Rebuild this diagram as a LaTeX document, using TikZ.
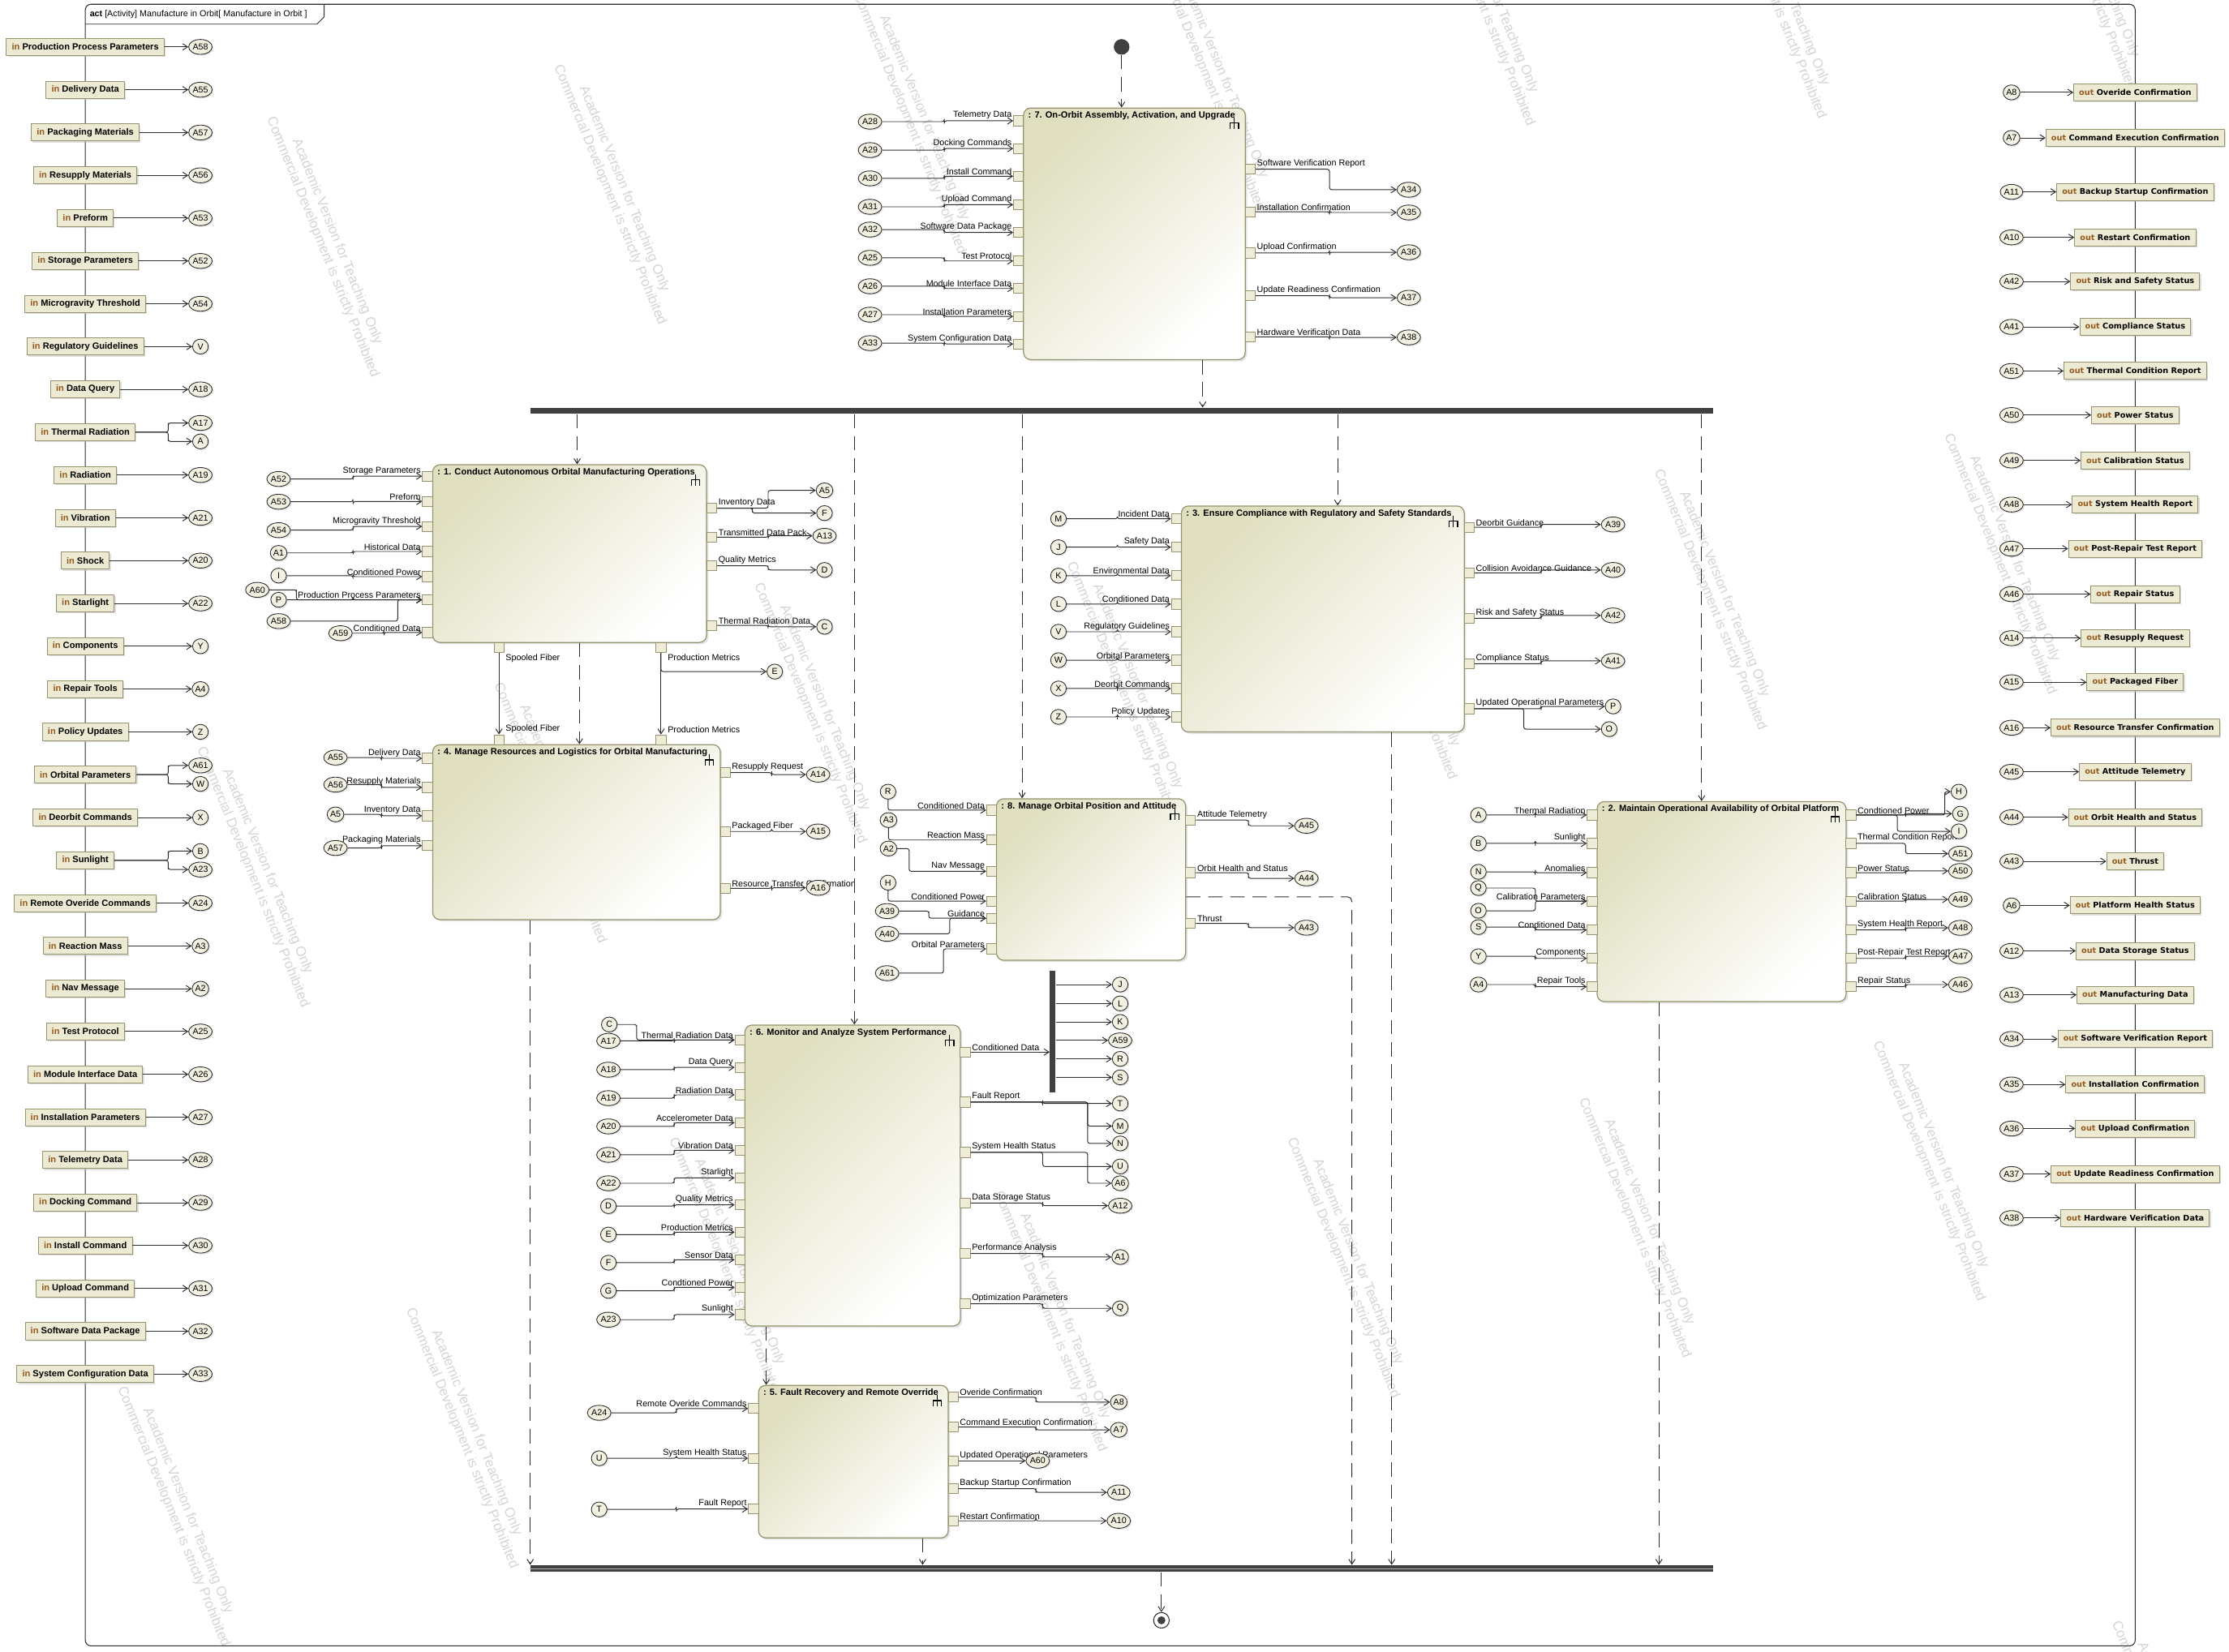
\documentclass[tikz,border=0pt]{standalone}
\usepackage{fontspec}
\setmainfont{Liberation Sans}
\newfontfamily\outfont{DejaVu Sans}
\usetikzlibrary{arrows.meta, calc, shapes.geometric, shadows}
\definecolor{actline}{RGB}{150,148,110}
\definecolor{actfill}{RGB}{224,223,192}
\definecolor{portfill}{RGB}{238,236,214}
\definecolor{pinfill}{RGB}{236,234,210}
\definecolor{reffill}{RGB}{242,240,224}
\definecolor{kw}{RGB}{150,90,30}
\definecolor{barcol}{RGB}{64,64,64}
\definecolor{linecol}{RGB}{45,45,45}
\newcommand{\pxu}{0.35mm}

% action box: name, x1, y1, x2, y2, title
\newcommand{\actbox}[6]{%
  \node[act, minimum width={(#4-#2)*\pxu}, minimum height={(#5-#3)*\pxu}] (#1) at ({(#2+#4)/2},{(#3+#5)/2}) {};
  \node[acttitle] (#1t) at ($(#1.north west)+(3,2)$) {#6};
  \pic at ($(#1.north east)+(-8,11)$) {rake};
}
% input pins of a box: id, pin x, ref x, list y/label/ref/ref y
\newcommand{\boxins}[4]{%
  \foreach \py/\lb/\rf/\ry [count=\cnt] in {#4}{
    \node[port] (p#1i\cnt) at (#2,\py) {};
    \node[lin] (l#1i\cnt) at (p#1i\cnt.west) {\lb};
    \node[ref] (r#1i\cnt) at (#3,\ry) {\rf};
    \draw[flow] (r#1i\cnt) to[jog] (p#1i\cnt);
  }}
% output pins of a box
\newcommand{\boxouts}[4]{%
  \foreach \py/\lb/\rf/\ry [count=\cnt] in {#4}{
    \node[port] (p#1o\cnt) at (#2,\py) {};
    \node[lout] (l#1o\cnt) at (p#1o\cnt.east) {\lb};
    \node[ref] (r#1o\cnt) at (#3,\ry) {\rf};
    \draw[flow] (p#1o\cnt) to[jog] (r#1o\cnt);
  }}

\begin{document}
\begin{tikzpicture}[x=0.35mm, y=-0.35mm, >={Straight Barb[length=3.5pt,width=4.5pt]},
  font=\fontsize{6.1}{7}\selectfont, line join=round,
  act/.style={draw=actline, line width=0.7pt, rounded corners=5pt, top color=actfill, bottom color=white, shading angle=45, inner sep=0pt, drop shadow={shadow xshift=1.3pt, shadow yshift=-1.3pt, fill=black!22}},
  acttitle/.style={anchor=north west, inner sep=0.5pt, font=\fontsize{6.3}{7}\selectfont\bfseries},
  rake/.pic={\draw[line width=0.7pt] (0,-4) -- (0,4) (-3,4) -- (-3,0) -- (3,0) -- (3,4);},
  port/.style={draw=actline, fill=portfill, line width=0.5pt, minimum size=7*\pxu, inner sep=0pt},
  ref/.style={ellipse, draw=linecol, fill=reffill, line width=0.5pt, inner sep=0.4pt, minimum width=11*\pxu, minimum height=10.5*\pxu, drop shadow={shadow xshift=0.9pt, shadow yshift=-0.9pt, fill=black!22}},
  inpin/.style={draw=actline, fill=pinfill, line width=0.5pt, minimum height=12*\pxu, inner xsep=3.8*\pxu, inner ysep=0pt, font=\fontsize{6.3}{7}\selectfont\bfseries, drop shadow={shadow xshift=1pt, shadow yshift=-1pt, fill=black!25}},
  outpin/.style={inpin, font=\outfont\fontsize{5.5}{7}\selectfont\bfseries},
  flow/.style={->, draw=linecol, line width=0.55pt, rounded corners=1.5pt},
  ctrl/.style={->, draw=linecol, line width=0.55pt, dash pattern=on 10pt off 5.5pt},
  jog/.style={to path={-| ($(\tikztostart)!#1!(\tikztotarget)$) |- (\tikztotarget) \tikztonodes}},
  jog/.default=0.5,
  lin/.style={anchor=south east, inner sep=0.8pt},
  lout/.style={anchor=south west, inner sep=0.8pt},
  bar/.style={fill=barcol, inner sep=0pt},
  init/.style={circle, fill=barcol, minimum size=11*\pxu, inner sep=0pt},
  final/.style={circle, draw=linecol, fill=white, line width=0.6pt, minimum size=11*\pxu, inner sep=0pt, path picture={\fill[barcol] (path picture bounding box.center) circle[radius=2.8*\pxu];}},
  wm/.style={text=black!17, rotate=-68, align=center, font=\fontsize{9.6}{11}\selectfont}]
  \useasboundingbox (0,0) rectangle (1568,1162);

  % watermark
  \foreach \wx/\wy [count=\wn] in {232/172, 434/135, 645/85, 855/55, 1045/-5, 1250/-10, 1468/-30, 1208/420, 1412/395, 795/485, 990/455, 575/500, 392/570, 183/615, 744/928, 515/890, 330/1010, 127/1065, 950/890, 1155/862, 1362/822, 1530/1230}
    \node[wm] (wm\wn) at (\wx,\wy) {Academic Version for Teaching Only\\Commercial Development is strictly Prohibited};

  % frame
  \draw[linecol, line width=0.6pt, rounded corners=4pt] (60,3) rectangle (1502,1158);
  \node[anchor=west, inner sep=0pt] (tab) at (63,10) {\textbf{act} [Activity] Manufacture in Orbit[ Manufacture in Orbit ]};
  \draw[linecol, line width=0.5pt] (60,17) -- (223,17) -- (228,12) -- (228,3);

  % input parameters
  \foreach \pn/\nm/\rf in {1/Production Process Parameters/A58, 2/Delivery Data/A55, 3/Packaging Materials/A57, 4/Resupply Materials/A56, 5/Preform/A53, 6/Storage Parameters/A52, 7/Microgravity Threshold/A54, 8/Regulatory Guidelines/V, 9/Data Query/A18, 11/Radiation/A19, 12/Vibration/A21, 13/Shock/A20, 14/Starlight/A22, 15/Components/Y, 16/Repair Tools/A4, 17/Policy Updates/Z, 19/Deorbit Commands/X, 21/Remote Overide Commands/A24, 22/Reaction Mass/A3, 23/Nav Message/A2, 24/Test Protocol/A25, 25/Module Interface Data/A26, 26/Installation Parameters/A27, 27/Telemetry Data/A28, 28/Docking Command/A29, 29/Install Command/A30, 30/Upload Command/A31, 31/Software Data Package/A32, 32/System Configuration Data/A33}{
    \pgfmathsetmacro\yy{33+30.12*(\pn-1)}
    \node[inpin] (in\pn) at (60,\yy) {\textcolor{kw}{in} \nm};
    \node[ref] (inr\pn) at (141,\yy) {\rf};
    \draw[flow] (in\pn) -- (inr\pn);
  }
  \foreach \pn/\nm/\rfa/\rfb in {10/Thermal Radiation/A17/A, 18/Orbital Parameters/A61/W, 20/Sunlight/B/A23}{
    \pgfmathsetmacro\yy{33+30.12*(\pn-1)}
    \node[inpin] (in\pn) at (60,\yy) {\textcolor{kw}{in} \nm};
    \node[ref] (inra\pn) at (141,\yy-6.5) {\rfa};
    \node[ref] (inrb\pn) at (141,\yy+6.5) {\rfb};
    \draw[flow] (in\pn) to[jog=0.72] (inra\pn);
    \draw[flow] (in\pn) to[jog=0.72] (inrb\pn);
  }

  % output parameters
  \foreach \yy/\rf/\nm [count=\pn] in {65/A8/Overide Confirmation, 97/A7/Command Execution Confirmation, 135/A11/Backup Startup Confirmation, 167/A10/Restart Confirmation, 198/A42/Risk and Safety Status, 230/A41/Compliance Status, 261/A51/Thermal Condition Report, 292/A50/Power Status, 324/A49/Calibration Status, 355/A48/System Health Report, 386/A47/Post-Repair Test Report, 418/A46/Repair Status, 449/A14/Resupply Request, 480/A15/Packaged Fiber, 512/A16/Resource Transfer Confirmation, 543/A45/Attitude Telemetry, 575/A44/Orbit Health and Status, 606/A43/Thrust, 637/A6/Platform Health Status, 669/A12/Data Storage Status, 700/A13/Manufacturing Data, 731/A34/Software Verification Report, 763/A35/Installation Confirmation, 794/A36/Upload Confirmation, 826/A37/Update Readiness Confirmation, 857/A38/Hardware Verification Data}{
    \node[outpin] (out\pn) at (1502,\yy) {\textcolor{kw}{out} \nm};
    \node[ref] (outr\pn) at (1415,\yy) {\rf};
    \draw[flow] (outr\pn) -- (out\pn);
  }

  % actions
  \actbox{b7}{720}{76}{876}{253}{: 7. On-Orbit Assembly, Activation, and Upgrade}
  \actbox{b1}{304.4}{327}{497}{452}{: 1. Conduct Autonomous Orbital Manufacturing Operations}
  \actbox{b4}{304.4}{524}{506.7}{647}{: 4. Manage Resources and Logistics for Orbital Manufacturing}
  \actbox{b3}{831}{356}{1030}{515}{: 3. Ensure Compliance with Regulatory and Safety Standards}
  \actbox{b8}{701}{562}{834}{675.6}{: 8. Manage Orbital Position and Attitude}
  \actbox{b2}{1123.5}{564}{1298.6}{704.7}{: 2. Maintain Operational Availability of Orbital Platform}
  \actbox{b6}{524}{721.2}{675.6}{932.9}{: 6. Monitor and Analyze System Performance}
  \actbox{b5}{533.6}{974.7}{667}{1082}{: 5. Fault Recovery and Remote Override}

  % 7. assembly
  \boxins{7}{716.5}{612}{85/Telemetry Data/A28/85.6, 104.5/Docking Commands/A29/105.6, 124/Install Command/A30/125.5, 144/Upload Command/A31/145.5, 163.6/Software Data Package/A32/161.5, 183.6/Test Protocol/A25/181.4, 203/Module Interface Data/A26/201.4, 222.6/Installation Parameters/A27/221.4, 242/System Configuration Data/A33/241.4}
  \boxouts{7}{879.5}{991}{119/Software Verification Report/A34/133.5, 149/Installation Confirmation/A35/149.5, 178/Upload Confirmation/A36/177.5, 208/Update Readiness Confirmation/A37/209.5, 237/Hardware Verification Data/A38/237.4}

  % 1. manufacturing
  \boxins{1}{300.7}{196}{335/Storage Parameters/A52/337, 352.8/Preform/A53/353, 370.4/Microgravity Threshold/A54/373, 388/Historical Data/A1/389, 405.7/Conditioned Power/I/405, 422/Production Process Parameters/P/422}
  \node[port] (p1icd) at (300.7,445) {};
  \node[lin] (l1icd) at (p1icd.west) {Conditioned Data};
  \node[ref] (r1A59) at (239.5,445.5) {A59};
  \draw[flow] (r1A59) to[jog] (p1icd);
  \node[ref] (r1A58) at (196,437) {A58};
  \draw[flow] (r1A58) to[jog=0.8] (p1i6);
  \node[ref] (r1A60) at (181,415) {A60};
  \draw[flow] (r1A60) to[jog=0.23] (p1i6);
  \boxouts{1}{500.7}{580}{357.5/Inventory Data/A5/345, 378/Transmitted Data Pack/A13/377, 398/Quality Metrics/D/401, 440/Thermal Radiation Data/C/441}
  \node[ref] (r1F) at (580,361) {F};
  \draw[flow] (p1o1) to[jog=0.36] (r1F);

  % 1 -> 4 object flows
  \node[port] (p1sf) at (351,455.5) {};
  \node[port] (p4sf) at (351,520.5) {};
  \draw[flow] (p1sf) -- (p4sf);
  \node[anchor=north west, inner sep=0.8pt] (l1sf) at (p1sf.south east) {Spooled Fiber};
  \node[lout] (l4sf) at (p4sf.north east) {Spooled Fiber};
  \node[port] (p1pm) at (465,455.5) {};
  \node[port] (p4pm) at (465,520.5) {};
  \draw[flow] (p1pm) -- (p4pm);
  \node[anchor=north west, inner sep=0.8pt] (l1pm) at (p1pm.south east) {Production Metrics};
  \node[lout] (l4pm) at (p4pm.north east) {Production Metrics};
  \node[ref] (r1E) at (545,472.5) {E};
  \draw[flow] (p1pm) |- (r1E);

  % 4. logistics
  \boxins{4}{300.7}{236}{533.5/Delivery Data/A55/533, 554/Resupply Materials/A56/552, 574/Inventory Data/A5/573, 595/Packaging Materials/A57/596.6}
  \boxouts{4}{510.2}{575.5}{543.6/Resupply Request/A14/545, 585/Packaged Fiber/A15/585, 625/Resource Transfer Confirmation/A16/624.6}

  % 3. compliance
  \boxins{3}{827.5}{744.6}{365/Incident Data/M/365, 385/Safety Data/J/385, 405/Environmental Data/K/405, 425/Conditioned Data/L/425, 444.5/Regulatory Guidelines/V/444.5, 464.5/Orbital Parameters/W/464.5, 484.4/Deorbit Commands/X/484.4, 504.4/Policy Updates/Z/504.4}
  \boxouts{3}{1033.5}{1134.7}{371/Deorbit Guidance/A39/369, 403/Collision Avoidance Guidance/A40/401, 435/Risk and Safety Status/A42/433, 467/Compliance Status/A41/465, 498.6/Updated Operational Parameters/P/497}
  \node[ref] (r3O) at (1132,513) {O};
  \draw[flow] (p3o5) to[jog=0.39] (r3O);

  % 8. orbit
  \foreach \py/\lb [count=\cnt] in {570/Conditioned Data, 591/Reaction Mass, 613/Nav Message, 634/Conditioned Power, 646/Guidance, 667.6/Orbital Parameters}{
    \node[port] (p8i\cnt) at (697.5,\py) {};
    \node[lin] (l8i\cnt) at (p8i\cnt.west) {\lb};
  }
  \node[ref] (r8R) at (624.7,557) {R};
  \node[ref] (r8A3) at (625,577) {A3};
  \node[ref] (r8A2) at (625,597) {A2};
  \node[ref] (r8H) at (624.7,621) {H};
  \node[ref] (r8A39) at (624,641) {A39};
  \node[ref] (r8A40) at (624,657) {A40};
  \node[ref] (r8A61) at (624,684.7) {A61};
  \draw[flow] (r8R) |- (p8i1);
  \draw[flow] (r8A3) |- (p8i2);
  \draw[flow] (r8A2) to[jog=0.2] (p8i3);
  \draw[flow] (r8H) |- (p8i4);
  \draw[flow] (r8A39) to[jog=0.4] (p8i5);
  \draw[flow] (r8A40) to[jog=0.6] (p8i5);
  \draw[flow] (r8A61) to[jog=0.54] (p8i6);
  \boxouts{8}{837.5}{919}{577/Attitude Telemetry/A45/581, 614/Orbit Health and Status/A44/618, 649.7/Thrust/A43/652.7}

  % 2. platform
  \boxins{2}{1120}{1040}{573.4/Thermal Radiation/A/573.4, 593.4/Sunlight/B/593.4, 614/Anomalies/N/613.4, 634/Calibration Parameters/Q/624.8, 654.3/Conditioned Data/S/652.3, 674.3/Components/Y/672.8, 694.2/Repair Tools/A4/692.7}
  \node[ref] (r2O) at (1040,640.8) {O};
  \draw[flow] (r2O) to[jog] (p2i4);
  \boxouts{2}{1302}{1379}{573.4/Condtioned Power/G/572.5, 593.4/Thermal Condition Report/A51/600.6, 614/Power Status/A50/612.8, 634/Calibration Status/A49/632.8, 654.3/System Health Report/A48/652.8, 674.3/Post-Repair Test Report/A47/672.8, 694.2/Repair Status/A46/692.7}
  \node[ref] (r2H) at (1378,557) {H};
  \node[ref] (r2I) at (1378,584.9) {I};
  \draw[flow] (p2o1) to[jog=0.87] (r2H);
  \draw[flow] (p2o1) to[jog=0.43] (r2I);

  % 6. monitoring
  \boxins{6}{520.5}{428}{731.7/Thermal Radiation Data/A17/732.3, 751/Data Query/A18/752.6, 770.3/Radiation Data/A19/772.6, 789.9/Accelerometer Data/A20/792.5, 809.3/Vibration Data/A21/812.5, 828.7/Starlight/A22/832.5, 847.7/Quality Metrics/D/848.6, 866.9/Production Metrics/E/868.6, 886.3/Sensor Data/F/888.4, 905.7/Condtioned Power/G/908.2, 924.9/Sunlight/A23/928.5}
  \node[ref] (r6C) at (428.6,720.8) {C};
  \draw[flow] (r6C) to[jog=0.21] (p6i1);
  \boxouts{6}{679}{788}{775.4/Fault Report/T/776.4, 810.8/System Health Status/U/820.7, 846.4/Data Storage Status/A12/848.3, 881.9/Performance Analysis/A1/884.4, 917.3/Optimization Parameters/Q/920.5}
  \node[ref] (r6M) at (788,792.3) {M};
  \node[ref] (r6N) at (788,804.5) {N};
  \node[ref] (r6A6) at (788,832.5) {A6};
  \draw[flow] (p6o1) to[jog=0.79] (r6M);
  \draw[flow] (p6o1) to[jog=0.79] (r6N);
  \draw[flow] (p6o2) to[jog=0.79] (r6A6);
  \node[port] (p6oc) at (679,740.2) {};
  \node[lout] (l6oc) at (p6oc.east) {Conditioned Data};
  \node[bar, minimum width=4*\pxu, minimum height=85.5*\pxu] (fork2) at (740.6,725.75) {};
  \draw[flow] (p6oc) -- (p6oc -| fork2.west);
  \foreach \ry/\rf in {692.7/J, 706/L, 719/K, 732/A59, 745/R, 758/S}{
    \node[ref] (f2\rf) at (788,\ry) {\rf};
    \draw[flow] (fork2.east |- f2\rf) -- (f2\rf);
  }

  % 5. recovery
  \boxins{5}{530}{421.5}{991/Remote Overide Commands/A24/994, 1026/System Health Status/U/1026, 1061.7/Fault Report/T/1062}
  \boxouts{5}{670.5}{787}{983/Overide Confirmation/A8/986.5, 1004/Command Execution Confirmation/A7/1006, 1047.4/Backup Startup Confirmation/A11/1050, 1070/Restart Confirmation/A10/1070}
  \node[port] (p5ou) at (670.5,1027.7) {};
  \node[lout] (l5ou) at (p5ou.east) {Updated Operational Parameters};
  \node[ref] (r5A60) at (730,1027.7) {A60};
  \draw[flow] (p5ou) -- (r5A60);

  % control flow
  \node[init] (start) at (789,33) {};
  \draw[ctrl] (start) -- (start |- b7.north);
  \node[bar, minimum width=832*\pxu, minimum height=4.5*\pxu] (fork1) at (789,289) {};
  \coordinate (fi7) at (846,286.7);
  \draw[ctrl] (fi7 |- b7.south) -- (fi7);
  \foreach \cx/\bx in {406/b1, 601/b6, 719/b8, 941/b3, 1197/b2}{
    \coordinate (fo\bx) at (\cx,291.3);
    \draw[ctrl] (fo\bx) -- (fo\bx |- \bx.north);
  }
  \coordinate (c14) at (407.6,452);
  \draw[ctrl] (c14 |- b1.south) -- (c14 |- b4.north);
  \coordinate (c65) at (539,950);
  \draw[ctrl] (c65 |- b6.south) -- (c65 |- b5.north);
  \node[bar, minimum width=832*\pxu, minimum height=5*\pxu] (join1) at (789,1103.5) {};
  \draw[white!70!black, line width=0.5pt] (join1.west) -- (join1.east);
  \foreach \cx/\bx in {373/b4, 649/b5, 979/b3, 1167/b2}{
    \coordinate (ji\bx) at (\cx,1101);
    \draw[ctrl] (ji\bx |- \bx.south) -- (ji\bx);
  }
  \coordinate (ji8) at (951,1101);
  \coordinate (jb8) at (951,631);
  \draw[ctrl, rounded corners=3pt] (jb8 -| b8.east) -- (jb8) -- (ji8);
  \node[final] (stop) at (817,1140) {};
  \draw[ctrl] (stop |- join1.south) -- (stop);
\end{tikzpicture}
\end{document}
